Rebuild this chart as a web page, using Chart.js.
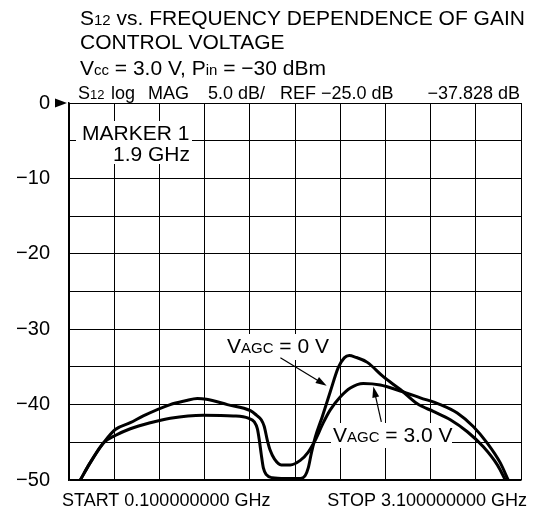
<!DOCTYPE html>
<html>
<head>
<meta charset="utf-8">
<script src="https://cdn.jsdelivr.net/npm/chart.js@4.4.1/dist/chart.umd.min.js"></script>
<style>
  body { margin: 0; background: #fff; }
</style>
</head>
<body>
<canvas id="s12Chart" width="540" height="512"></canvas>
<script>
// S12 trace for V_AGC = 0 V (frequency in GHz, gain in dB)
const freq0V = [0.175, 0.241, 0.328, 0.407, 0.507, 0.640, 0.772, 0.991, 1.190, 1.290, 1.330, 1.350, 1.363,
  1.376, 1.390, 1.410, 1.449, 1.536, 1.635, 1.668, 1.688, 1.708, 1.735, 1.781, 1.834, 1.887, 1.927, 1.960,
  2.000, 2.080, 2.186, 2.299, 2.412, 2.518, 2.631, 2.744, 2.850, 2.943, 2.996];
const gain0V = [-50.0, -47.7, -45.1, -44.1, -43.2, -42.4, -41.8, -41.4, -41.5, -41.8, -42.3, -43.2, -44.7,
  -46.6, -48.4, -49.3, -49.7, -49.8, -49.8, -49.4, -48.4, -46.5, -44.3, -41.6, -38.3, -35.1, -33.8, -33.5,
  -33.7, -34.4, -36.3, -38.0, -39.9, -40.9, -42.0, -43.6, -45.6, -48.0, -50.0];

// S12 trace for V_AGC = 3.0 V
const freq3V = [0.175, 0.241, 0.328, 0.407, 0.507, 0.593, 0.772, 0.872, 0.952, 1.012, 1.151, 1.304, 1.344,
  1.376, 1.396, 1.416, 1.436, 1.463, 1.509, 1.569, 1.635, 1.688, 1.735, 1.788, 1.834, 1.900, 1.967, 2.053,
  2.166, 2.299, 2.432, 2.564, 2.677, 2.783, 2.876, 2.962, 3.015];
const gain3V = [-50.0, -47.7, -45.1, -43.3, -42.4, -41.5, -40.0, -39.5, -39.2, -39.3, -40.0, -40.8, -41.4,
  -42.0, -42.9, -44.7, -46.1, -47.2, -48.0, -48.0, -47.4, -46.3, -44.7, -42.4, -40.7, -39.0, -37.8, -37.2,
  -37.4, -38.2, -39.1, -40.0, -41.1, -42.9, -45.1, -47.7, -50.0];

// grid: start 0.1 GHz, stop 3.1 GHz, 10 divisions; 5 dB/div
const xGridGHz = [0.1, 0.4, 0.7, 1.0, 1.3, 1.6, 1.9, 2.2, 2.5, 2.8, 3.1];
const yMin = -50;
const yMax = 0;
const yStep = 5;

const FONT = '"Liberation Sans", Arial, Helvetica, sans-serif';
const MINUS = '\u2212';

// text with small "subscript" parts, e.g. S12, Vcc, VAGC
function drawRich(ctx, parts, x, y, size, align) {
  const subSize = Math.round(size * 0.7);
  let w = 0;
  parts.forEach(([t, sub]) => {
    ctx.font = (sub ? subSize : size) + 'px ' + FONT;
    w += ctx.measureText(t).width;
  });
  let cx = align === 'right' ? x - w : x;
  ctx.textAlign = 'left';
  ctx.textBaseline = 'alphabetic';
  parts.forEach(([t, sub]) => {
    ctx.font = (sub ? subSize : size) + 'px ' + FONT;
    ctx.fillText(t, cx, y);
    cx += ctx.measureText(t).width;
  });
  return w;
}

function drawArrow(ctx, x1, y1, x2, y2) {
  const ang = Math.atan2(y2 - y1, x2 - x1);
  const len = 11, half = 3.5;
  ctx.beginPath();
  ctx.moveTo(x1, y1);
  ctx.lineTo(x2 - Math.cos(ang) * len * 0.8, y2 - Math.sin(ang) * len * 0.8);
  ctx.stroke();
  ctx.beginPath();
  ctx.moveTo(x2, y2);
  ctx.lineTo(x2 - Math.cos(ang) * len - Math.sin(ang) * half, y2 - Math.sin(ang) * len + Math.cos(ang) * half);
  ctx.lineTo(x2 - Math.cos(ang) * len + Math.sin(ang) * half, y2 - Math.sin(ang) * len - Math.cos(ang) * half);
  ctx.closePath();
  ctx.fill();
}

const annotate = {
  id: 'annotate',
  beforeDatasetsDraw(chart) {
    const ctx = chart.ctx;
    ctx.save();
    // white label boxes over the grid
    ctx.fillStyle = '#fff';
    ctx.fillRect(76, 121, 116, 43);
    ctx.fillRect(219, 334, 114, 26);
    ctx.fillRect(331, 423, 121, 25);
    ctx.fillStyle = '#000';
    ctx.font = '21px ' + FONT;
    ctx.textAlign = 'left';
    ctx.fillText('MARKER 1', 82, 140);
    ctx.textAlign = 'right';
    ctx.fillText('1.9 GHz', 190, 161);
    drawRich(ctx, [['V', 0], ['AGC', 1], [' = 0 V', 0]], 227, 353, 21);
    drawRich(ctx, [['V', 0], ['AGC', 1], [' = 3.0 V', 0]], 333, 442, 21);
    ctx.restore();
  },
  afterDatasetsDraw(chart) {
    const {ctx, scales: {x, y}} = chart;
    ctx.save();
    ctx.strokeStyle = '#000';
    ctx.fillStyle = '#000';
    ctx.lineWidth = 1.2;
    drawArrow(ctx, x.getPixelForValue(1.503), y.getPixelForValue(-33.8), x.getPixelForValue(1.810), y.getPixelForValue(-37.5));
    drawArrow(ctx, x.getPixelForValue(2.173), y.getPixelForValue(-42.3), x.getPixelForValue(2.120), y.getPixelForValue(-37.6));
    ctx.restore();
  },
  afterDraw(chart) {
    const {ctx, chartArea, scales: {y}} = chart;
    ctx.save();
    ctx.fillStyle = '#000';
    // heading
    drawRich(ctx, [['S', 0], ['12', 1], [' vs. FREQUENCY DEPENDENCE OF GAIN', 0]], 80, 25, 21);
    drawRich(ctx, [['CONTROL VOLTAGE', 0]], 80, 48.5, 21);
    drawRich(ctx, [['V', 0], ['cc', 1], [' = 3.0 V, P', 0], ['in', 1], [' = ' + MINUS + '30 dBm', 0]], 80, 75, 21);
    // analyzer status line
    drawRich(ctx, [['S', 0], ['12', 1]], 78, 98.5, 18);
    drawRich(ctx, [['log', 0]], 111, 98.5, 18);
    drawRich(ctx, [['MAG', 0]], 148, 98.5, 18);
    drawRich(ctx, [['5.0 dB/', 0]], 208, 98.5, 18);
    drawRich(ctx, [['REF ' + MINUS + '25.0 dB', 0]], 280, 98.5, 18);
    drawRich(ctx, [[MINUS + '37.828 dB', 0]], 520, 98.5, 18, 'right');
    // reference marker at 0 dB
    const y0 = y.getPixelForValue(0);
    ctx.beginPath();
    ctx.moveTo(chartArea.left - 2, y0);
    ctx.lineTo(chartArea.left - 14, y0 - 4.5);
    ctx.lineTo(chartArea.left - 14, y0 + 4.5);
    ctx.closePath();
    ctx.fill();
    // sweep limits
    ctx.font = '18px ' + FONT;
    ctx.textAlign = 'left';
    ctx.fillText('START 0.100000000 GHz', 62, 506);
    ctx.textAlign = 'right';
    ctx.fillText('STOP 3.100000000 GHz', 527, 506);
    ctx.restore();
  }
};

const toPoints = (xs, ys) => xs.map((f, i) => ({x: f, y: ys[i]}));

new Chart(document.getElementById('s12Chart'), {
  type: 'line',
  data: {
    datasets: [{
      label: 'VAGC = 0 V',
      data: toPoints(freq0V, gain0V),
      borderColor: '#000',
      borderWidth: 3,
      pointRadius: 0,
      cubicInterpolationMode: 'monotone',
      fill: false
    }, {
      label: 'VAGC = 3.0 V',
      data: toPoints(freq3V, gain3V),
      borderColor: '#000',
      borderWidth: 3,
      pointRadius: 0,
      cubicInterpolationMode: 'monotone',
      fill: false
    }]
  },
  options: {
    responsive: false,
    animation: false,
    devicePixelRatio: 1,
    layout: { padding: { top: 103, right: 19, bottom: 32, left: 0 } },
    plugins: { legend: { display: false }, tooltip: { enabled: false } },
    scales: {
      x: {
        type: 'linear',
        min: xGridGHz[0],
        max: xGridGHz[xGridGHz.length - 1],
        afterBuildTicks: s => { s.ticks = xGridGHz.map(v => ({ value: v })); },
        afterFit: s => { s.height = 0; },
        ticks: { display: false },
        grid: { color: '#000', lineWidth: 1, drawTicks: false },
        border: { color: '#000', width: 1.5 }
      },
      y: {
        min: yMin,
        max: yMax,
        afterFit: s => { s.width = 69; },
        ticks: {
          stepSize: yStep,
          padding: 19,
          color: '#000',
          font: { family: FONT, size: 20 },
          callback: v => (v % 10 === 0 ? (v < 0 ? MINUS + Math.abs(v) : String(v)) : '')
        },
        grid: { color: '#000', lineWidth: 1, drawTicks: false },
        border: { color: '#000', width: 1.5 }
      }
    }
  },
  plugins: [annotate]
});
</script>
</body>
</html>
